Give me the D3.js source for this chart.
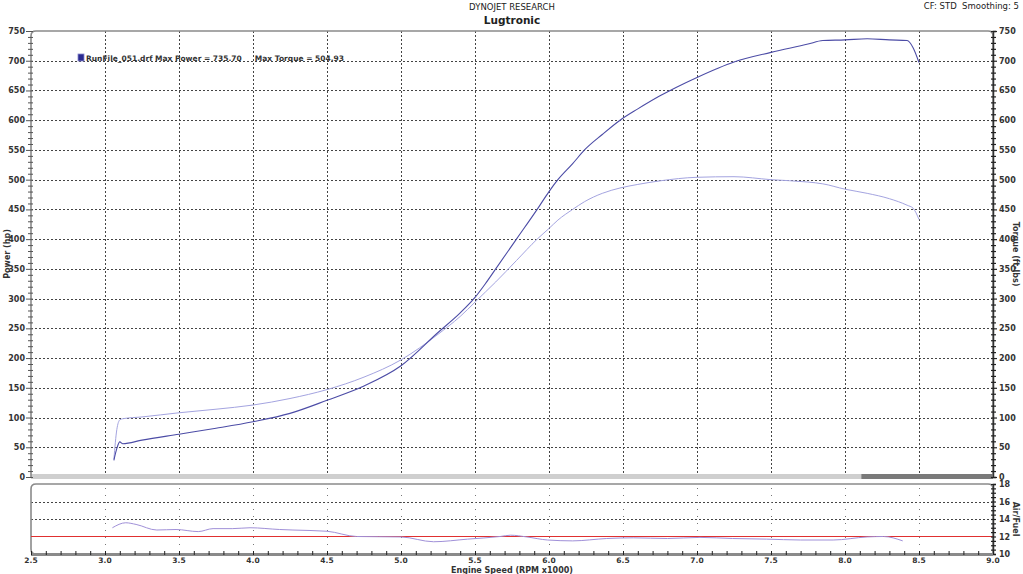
<!DOCTYPE html>
<html>
<head>
<meta charset="utf-8">
<script src="https://cdn.jsdelivr.net/npm/d3@7"></script>
<style>
  body { margin: 0; background: #fff; }
  svg { font-family: "DejaVu Sans", Verdana, sans-serif; }
</style>
</head>
<body>
<div id="chart"></div>
<script>
// run data (rpm x1000)
var rpm    = [3.06, 3.08, 3.10, 3.12, 3.25, 3.5, 3.75, 4.0, 4.25, 4.5, 4.75, 5.0, 5.25, 5.4, 5.5, 5.57, 5.64, 5.78, 5.92, 6.0, 6.06, 6.16, 6.24, 6.36, 6.48, 6.6, 6.75, 7.0, 7.25, 7.5, 7.75, 7.85, 8.0, 8.15, 8.3, 8.42, 8.46, 8.5];
var power  = [28, 48, 59, 56, 62, 72, 82, 93, 107, 129, 153, 187, 243, 276, 302, 325, 350, 400, 450, 480, 500, 527, 550, 576, 600, 619, 641, 672, 698, 714, 728, 734, 735, 737, 735, 734, 722, 697];
var torque = [30, 80, 96, 98, 101, 108, 114, 121, 132, 147, 168, 197, 240, 270, 294, 311, 328, 364, 400, 418, 432, 450, 463, 477, 486, 492, 498, 504, 505, 500, 496, 493, 484, 477, 468, 457, 452, 433];

var afRpm  = [3.05, 3.14, 3.21, 3.35, 3.48, 3.63, 3.73, 3.86, 3.98, 4.18, 4.27, 4.5, 4.7, 5.0, 5.22, 5.45, 5.67, 5.74, 5.85, 5.99, 6.16, 6.39, 6.57, 6.8, 7.02, 7.24, 7.47, 7.7, 7.92, 8.15, 8.26, 8.39];
var airFuel = [13.0, 13.57, 13.38, 12.74, 12.8, 12.56, 12.9, 12.9, 13.0, 12.8, 12.74, 12.6, 12.0, 11.95, 11.4, 11.7, 12.0, 12.15, 11.95, 11.6, 11.5, 11.77, 11.85, 11.77, 11.9, 11.77, 11.7, 11.6, 11.6, 11.95, 12.0, 11.5];
var afTarget = 12;

var xTicks = [2.5, 3.0, 3.5, 4.0, 4.5, 5.0, 5.5, 6.0, 6.5, 7.0, 7.5, 8.0, 8.5, 9.0];
var pTicks = [0, 50, 100, 150, 200, 250, 300, 350, 400, 450, 500, 550, 600, 650, 700, 750];
var afTicks = [10, 12, 14, 16, 18];

var W = 1023, H = 574;
var L = 31, R = 993;
var top1 = 31, bot1 = 477;
var top2 = 484, bot2 = 554;

var svg = d3.select("#chart").append("svg")
	.attr("width", W)
	.attr("height", H);

var x = d3.scaleLinear().domain([2.5, 9.0]).range([L, R]);
var y = d3.scaleLinear().domain([0, 750]).range([bot1, top1]);
var y2 = d3.scaleLinear().domain([10, 18]).range([bot2, top2]);

// titles
svg.append("text").attr("x", 512).attr("y", 10).attr("text-anchor", "middle")
	.attr("font-size", 8.5).attr("fill", "#222").text("DYNOJET RESEARCH");
svg.append("text").attr("x", 512).attr("y", 24).attr("text-anchor", "middle")
	.attr("font-size", 10.5).attr("font-weight", "bold").attr("fill", "#222").text("Lugtronic");
svg.append("text").attr("x", 1019).attr("y", 9).attr("text-anchor", "end")
	.attr("font-size", 8.5).attr("fill", "#222").attr("xml:space", "preserve").text("CF: STD  Smoothing: 5");

// grid - main
var grid = svg.append("g").attr("stroke", "#444").attr("stroke-width", 1).attr("stroke-dasharray", "2,2");
grid.selectAll(".hg").data(pTicks.filter(d => d > 0 && d < 750)).enter().append("line")
	.attr("x1", L).attr("x2", R).attr("y1", d => Math.round(y(d)) + 0.5).attr("y2", d => Math.round(y(d)) + 0.5);
grid.selectAll(".vg").data(xTicks.filter(d => d > 2.5 && d < 9)).enter().append("line")
	.attr("x1", d => Math.round(x(d)) + 0.5).attr("x2", d => Math.round(x(d)) + 0.5)
	.attr("y1", top1).attr("y2", bot1 - 3);

// grid - air/fuel
var grid2 = svg.append("g").attr("stroke", "#444").attr("stroke-width", 1).attr("stroke-dasharray", "2,2");
grid2.selectAll(".hg").data([14, 16]).enter().append("line")
	.attr("x1", L).attr("x2", R).attr("y1", d => Math.round(y2(d)) + 0.5).attr("y2", d => Math.round(y2(d)) + 0.5);
grid2.selectAll(".vg").data(xTicks.filter(d => d > 2.5 && d < 9)).enter().append("line")
	.attr("x1", d => Math.round(x(d)) + 0.5).attr("x2", d => Math.round(x(d)) + 0.5)
	.attr("y1", top2 + 4).attr("y2", bot2 - 2)
	.attr("stroke", "#777").attr("stroke-dasharray", "1,6");

// bottom band of main panel
svg.append("rect").attr("x", L).attr("y", bot1 - 3).attr("width", x(8.11) - L).attr("height", 5).attr("fill", "#cfcfcf");
svg.append("rect").attr("x", x(8.11)).attr("y", bot1 - 3).attr("width", R - x(8.11)).attr("height", 5).attr("fill", "#7a7a7a");

// frames
function frame(t, b) {
	var r = 5;
	svg.append("path")
		.attr("d", `M${L},${b} L${L},${t + r} Q${L},${t} ${L + r},${t} L${R - r},${t} Q${R},${t} ${R},${t + r} L${R},${b}`)
		.attr("fill", "none").attr("stroke", "#8a8a8a").attr("stroke-width", 1.6);
}
frame(top1, bot1);
svg.append("path")
	.attr("d", `M${L + 5},${bot2} Q${L},${bot2} ${L},${bot2 - 5} L${L},${top2 + 5} Q${L},${top2} ${L + 5},${top2} L${R - 5},${top2} Q${R},${top2} ${R},${top2 + 5} L${R},${bot2}`)
	.attr("fill", "none").attr("stroke", "#8a8a8a").attr("stroke-width", 1.6);

// red target line
svg.append("line").attr("x1", L).attr("x2", R)
	.attr("y1", y2(afTarget)).attr("y2", y2(afTarget))
	.attr("stroke", "#e03030").attr("stroke-width", 1);

// curves
var line = d3.line().x((d, i) => x(rpm[i])).y(d => y(d)).curve(d3.curveMonotoneX);
svg.append("path").datum(torque).attr("d", line)
	.attr("fill", "none").attr("stroke", "#a4a4e0").attr("stroke-width", 1);
svg.append("path").datum(power).attr("d", line)
	.attr("fill", "none").attr("stroke", "#4c4ca6").attr("stroke-width", 1.1);

var afLine = d3.line().x((d, i) => x(afRpm[i])).y(d => y2(d)).curve(d3.curveMonotoneX);
svg.append("path").datum(airFuel).attr("d", afLine)
	.attr("fill", "none").attr("stroke", "#a090d8").attr("stroke-width", 1);

// left axis
var leftAx = svg.append("g").attr("transform", `translate(${L},0)`)
	.call(d3.axisLeft(y).tickValues(d3.range(0, 751, 10)).tickSize(3).tickFormat(""));
leftAx.select(".domain").remove();
leftAx.selectAll(".tick line").attr("x2", d => d % 50 === 0 ? -5 : -3).attr("x1", 2).attr("stroke", "#555");
svg.append("g").selectAll("text").data(pTicks).enter().append("text")
	.attr("x", L - 6).attr("y", d => y(d) + 3)
	.attr("text-anchor", "end").attr("font-size", 8).attr("font-weight", "bold").attr("fill", "#333")
	.text(d => d);

// right axis
var rightAx = svg.append("g").attr("transform", `translate(${R},0)`)
	.call(d3.axisRight(y).tickValues(d3.range(0, 751, 10)).tickSize(3).tickFormat(""));
rightAx.select(".domain").attr("stroke", "#333").attr("stroke-width", 1.5);
rightAx.selectAll(".tick line").attr("x1", -2).attr("x2", d => d % 50 === 0 ? 4 : 3).attr("stroke", "#222").attr("stroke-width", 1.2);
svg.append("g").selectAll("text").data(pTicks).enter().append("text")
	.attr("x", R + 6).attr("y", d => y(d) + 3)
	.attr("font-size", 8).attr("font-weight", "bold").attr("fill", "#333")
	.text(d => d);

var rightAx2 = svg.append("g").attr("transform", `translate(${R},0)`)
	.call(d3.axisRight(y2).tickValues(d3.range(10, 18.1, 0.5)).tickSize(3).tickFormat(""));
rightAx2.select(".domain").attr("stroke", "#333").attr("stroke-width", 1.5);
rightAx2.selectAll(".tick line").attr("x1", -2).attr("stroke", "#222").attr("stroke-width", 1.2);
svg.append("g").selectAll("text").data(afTicks).enter().append("text")
	.attr("x", R + 6).attr("y", d => y2(d) + 3)
	.attr("font-size", 8).attr("font-weight", "bold").attr("fill", "#333")
	.text(d => d);

// bottom x axis
svg.append("rect").attr("x", L).attr("y", bot2 - 1).attr("width", R - L).attr("height", 3).attr("fill", "#8a8a8a");
var xAx = svg.append("g").attr("transform", `translate(0,${bot2})`)
	.call(d3.axisBottom(x).tickValues(d3.range(2.5, 9.01, 0.1)).tickSize(3).tickFormat(""));
xAx.select(".domain").remove();
xAx.selectAll(".tick line").attr("y1", -3).attr("y2", 1).attr("stroke", "#222");
svg.append("g").selectAll("text").data(xTicks).enter().append("text")
	.attr("x", d => x(d)).attr("y", bot2 + 9)
	.attr("text-anchor", "middle").attr("font-size", 7.5).attr("font-weight", "bold").attr("fill", "#333")
	.text(d => d.toFixed(1));

// axis titles
svg.append("text").attr("transform", `translate(10,${(top1 + bot1) / 2}) rotate(-90)`)
	.attr("text-anchor", "middle").attr("font-size", 8).attr("font-weight", "bold").attr("fill", "#333")
	.text("Power (hp)");
svg.append("text").attr("transform", `translate(1013,${(top1 + bot1) / 2}) rotate(90)`)
	.attr("text-anchor", "middle").attr("font-size", 8).attr("font-weight", "bold").attr("fill", "#333")
	.text("Torque (ft-lbs)");
svg.append("text").attr("transform", `translate(1013,${(top2 + bot2) / 2}) rotate(90)`)
	.attr("text-anchor", "middle").attr("font-size", 8).attr("font-weight", "bold").attr("fill", "#333")
	.text("Air/Fuel");
svg.append("text").attr("x", 512).attr("y", 573)
	.attr("text-anchor", "middle").attr("font-size", 8).attr("font-weight", "bold").attr("fill", "#333")
	.text("Engine Speed (RPM x1000)");

// legend
svg.append("rect").attr("x", 78).attr("y", 54).attr("width", 6).attr("height", 7)
	.attr("fill", "#2a2a90").attr("stroke", "#8888cc").attr("stroke-width", 0.8);
svg.append("text").attr("x", 86).attr("y", 61).attr("font-size", 7.5).attr("font-weight", "bold").attr("fill", "#333")
	.attr("xml:space", "preserve")
	.text("RunFile_051.drf Max Power = 735.70     Max Torque = 504.93");
</script>
</body>
</html>
